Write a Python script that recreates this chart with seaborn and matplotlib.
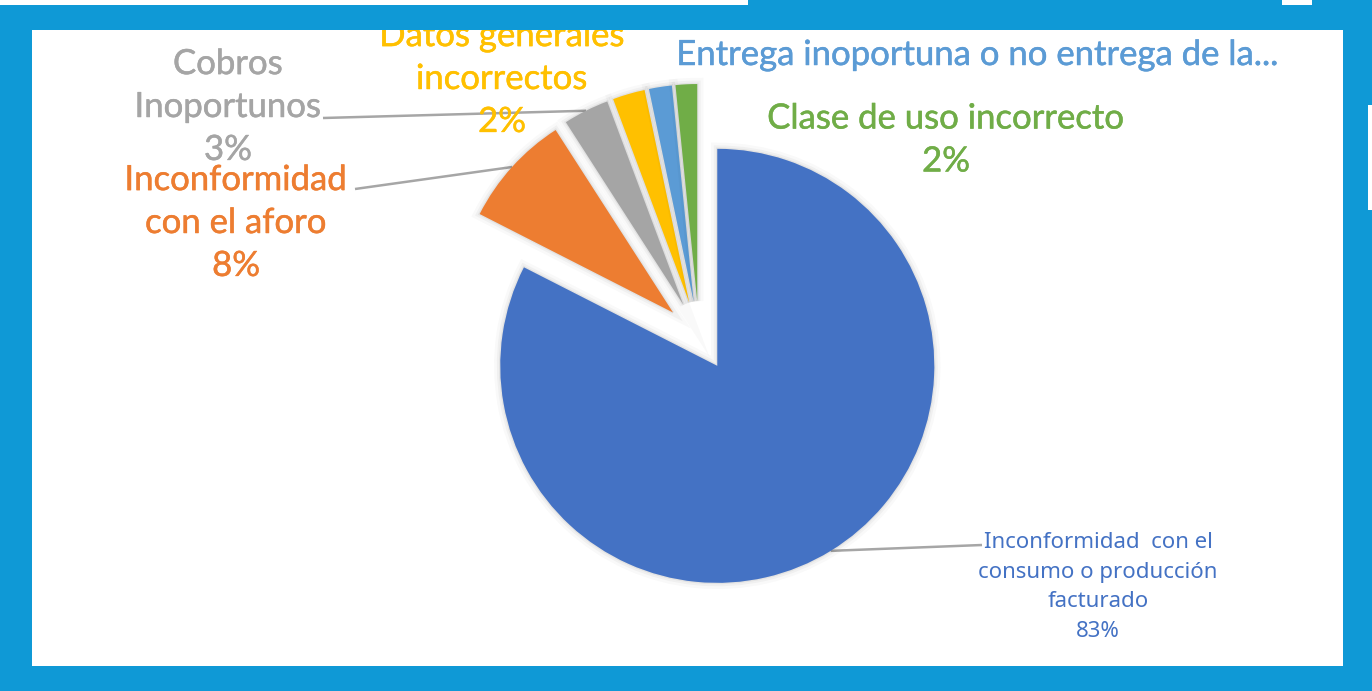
import numpy as np
import matplotlib
matplotlib.use("Agg")
import matplotlib.pyplot as plt
import matplotlib.patheffects as pe
from matplotlib.patches import Rectangle
import seaborn as sns

# ---------------- data ----------------
categories = [
    "Inconformidad  con el\nconsumo o producción\nfacturado",
    "Inconformidad\ncon el aforo",
    "Cobros\nInoportunos",
    "Datos generales\nincorrectos",
    "Entrega inoportuna o no entrega de la...",
    "Clase de uso incorrecto",
]
values = [82.5, 8.4, 3.4, 2.4, 1.7, 1.6]
pct_labels = ["83%", "8%", "3%", "2%", "", "2%"]
colors = ["#4472C4", "#ED7D31", "#A5A5A5", "#FFC000", "#5B9BD5", "#70AD47"]

# ---------------- style ----------------
sns.set_theme(style="white")
plt.rcParams['font.family'] = ['Lato', 'DejaVu Sans']

W, H = 1372, 691
BG = "#0F99D6"
fig = plt.figure(figsize=(W / 100, H / 100), dpi=100)
fig.patch.set_facecolor(BG)
ax = fig.add_axes([0, 0, 1, 1])
ax.set_facecolor(BG)


def Y(y):
    return H - y


# white panel + frame artefacts
panel = Rectangle((32, Y(666)), 1343 - 32, 666 - 30, facecolor="white",
                  edgecolor="none", zorder=0)
ax.add_patch(panel)
# top blue band drawn above the labels so that they are cut by the frame
ax.add_patch(Rectangle((0, Y(30)), W, 25, facecolor=BG, edgecolor="none", zorder=10))
ax.add_patch(Rectangle((0, Y(5)), 748, 5, facecolor="white", edgecolor="none", zorder=10))
ax.add_patch(Rectangle((748, Y(5)), 534, 5, facecolor=BG, edgecolor="none", zorder=10))
ax.add_patch(Rectangle((1282, Y(5)), 30, 5, facecolor="white", edgecolor="none", zorder=10))
ax.add_patch(Rectangle((1368, Y(210)), 4, 105, facecolor="white", edgecolor="none", zorder=0))

# ---------------- pie ----------------
shadow = [pe.Stroke(linewidth=9, foreground="black", alpha=0.025),
          pe.Stroke(linewidth=5, foreground="black", alpha=0.035),
          pe.Stroke(linewidth=2, foreground="black", alpha=0.05),
          pe.Normal()]
wedges, _ = ax.pie(values, colors=colors, startangle=90, counterclock=False,
                   center=(699, Y(336)), radius=217, explode=[35] * len(values),
                   wedgeprops=dict(linewidth=0, path_effects=shadow))
for w in wedges:
    w.set_zorder(2)

ax.set_xlim(0, W)
ax.set_ylim(0, H)
ax.set_aspect("auto")
ax.axis("off")


def label_text(i):
    return categories[i] + ("\n" + pct_labels[i] if pct_labels[i] else "")


def wedge_mid(w):
    th = np.deg2rad((w.theta1 + w.theta2) / 2)
    cx, cy = w.center
    return cx + w.r * np.cos(th), cy + w.r * np.sin(th)


def thick(c, lw=0.35):
    return [pe.withStroke(linewidth=lw, foreground=c)]


big = 25
ls = 1.42
ax.text(228, Y(107), label_text(2), color="#A5A5A5", fontsize=big,
        ha="center", va="center", linespacing=ls, zorder=3,
        path_effects=thick("#A5A5A5"))
ax.text(502, Y(79), label_text(3), color="#FFC000", fontsize=big,
        ha="center", va="center", linespacing=ls, zorder=3,
        path_effects=thick("#FFC000"))
ax.text(978, Y(55), label_text(4), color="#5B9BD5", fontsize=big, zorder=3,
        ha="center", va="center", path_effects=thick("#5B9BD5"))
ax.text(946, Y(140), label_text(5), color="#70AD47", fontsize=big, zorder=3,
        ha="center", va="center", linespacing=ls, path_effects=thick("#70AD47"))
ax.text(236, Y(223), label_text(1), color="#ED7D31", fontsize=big, zorder=3,
        ha="center", va="center", linespacing=ls, path_effects=thick("#ED7D31"))
ax.text(1098, Y(587), label_text(0), color="#4472C4", fontsize=16, zorder=3,
        ha="center", va="center", linespacing=1.56, family=["Noto Sans", "DejaVu Sans"])

# leader lines from wedge mid-arc to labels
lc = "#A6A6A6"
for idx, (lx, ly) in [(2, (323, 118)), (1, (355, 189)), (0, (982, 545))]:
    mx, my = wedge_mid(wedges[idx])
    ax.plot([mx, lx], [my, Y(ly)], color=lc, lw=1.8, zorder=1, solid_capstyle="butt")

fig.savefig("out.png", dpi=100, facecolor=fig.get_facecolor())
